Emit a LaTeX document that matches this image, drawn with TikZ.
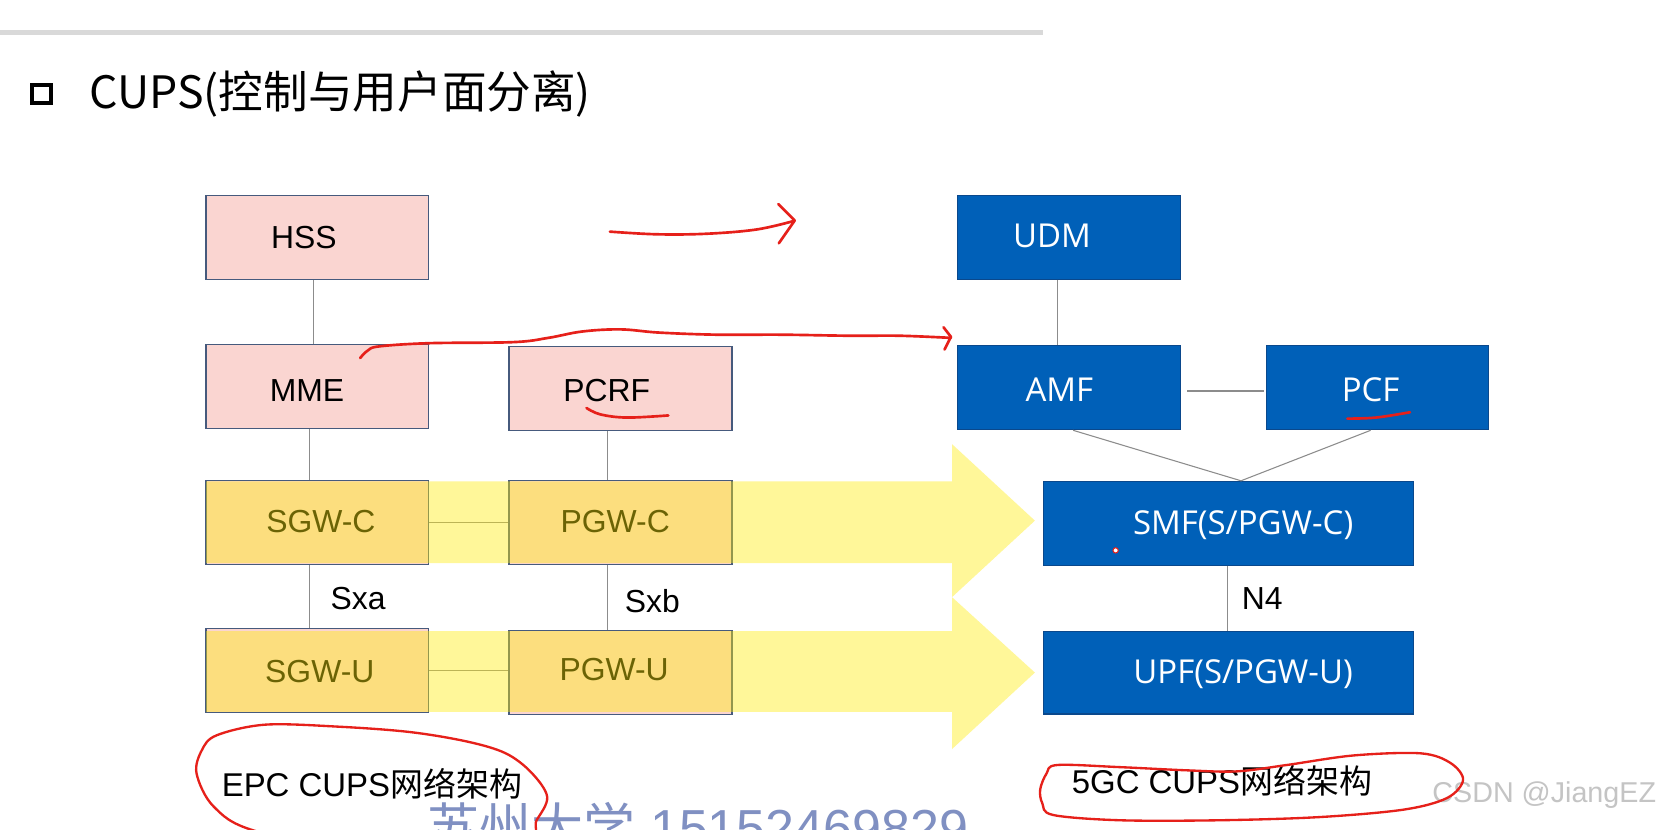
\documentclass[tikz,border=0pt]{standalone}
\usepackage{fontspec}
\setmainfont{Liberation Sans}
\newfontfamily\cjk{Noto Sans CJK SC}
\newfontfamily\osans{Open Sans}
\definecolor{pinkfill}{RGB}{250,213,209}
\definecolor{boxedge}{RGB}{70,90,125}
\definecolor{bluefill}{RGB}{0,96,184}
\definecolor{blueedge}{RGB}{10,72,140}
\definecolor{bandcol}{RGB}{255,236,12}
\definecolor{conncol}{RGB}{140,140,140}
\definecolor{pencol}{RGB}{230,32,26}
\definecolor{wmcol}{RGB}{128,144,194}
\definecolor{csdncol}{RGB}{196,196,196}
\definecolor{barcol}{RGB}{217,217,217}
\tikzset{
  pinkbox/.style={draw=boxedge, line width=1.2pt, fill=pinkfill, minimum width=209pt, minimum height=79pt, inner sep=0pt},
  bluebox/.style={draw=blueedge, line width=1pt, fill=bluefill, minimum width=210pt, minimum height=79pt, inner sep=0pt},
  lbl/.style={inner sep=0pt, text height=21.5pt, text depth=0pt, font=\fontsize{30}{36}\selectfont},
  blbl/.style={inner sep=0pt, text height=22pt, text depth=0pt, text=white, font=\osans\fontsize{31}{36}\selectfont},
  conn/.style={draw=conncol, line width=1pt},
  pen/.style={draw=pencol, line width=2.5pt, line cap=round, line join=round},
}
\begin{document}
\begin{tikzpicture}[x=1pt,y=-1pt]
\useasboundingbox (0,0) rectangle (1568,781);
\fill[white] (0,0) rectangle (1568,781);
% top bar
\fill[barcol] (0,28.5) rectangle (982,33);
% title
\draw[line width=4pt] (30,80) rectangle (48,97);
\node[anchor=west, inner sep=0pt] (title) at (84,88) {\cjk\fontsize{42}{48}\selectfont CUPS(控制与用户面分离)};

% EPC boxes
\node[pinkbox] (hss)  at (298.5,223.5) {};
\node[pinkbox] (mme)  at (298.5,364) {};
\node[pinkbox, minimum width=210pt] (pcrf) at (584,365.5) {};
\node[pinkbox] (sgwc) at (298.5,492) {};
\node[pinkbox, minimum width=210pt] (pgwc) at (584,492) {};
\node[pinkbox] (sgwu) at (298.5,631) {};
\node[pinkbox, minimum width=210pt] (pgwu) at (584,633) {};

\node[lbl] (hssl)  at (286,223) {HSS};
\node[lbl] (mmel)  at (289,367) {MME};
\node[lbl] (pcrfl) at (571,367) {PCRF};
\node[lbl] (sgwcl) at (302,490) {SGW-C};
\node[lbl] (pgwcl) at (579,490) {PGW-C};
\node[lbl] (sgwul) at (301,632) {SGW-U};
\node[lbl] (pgwul) at (578,630) {PGW-U};

\draw[conn] ([xshift=-3.5pt]hss.south) -- ([xshift=-3.5pt]mme.north);
\draw[conn] ([xshift=-7.5pt]mme.south) -- ([xshift=-7.5pt]sgwc.north);
\draw[conn] ([xshift=-12pt]pcrf.south) -- ([xshift=-12pt]pgwc.north);
\draw[conn] (sgwc.east) -- (pgwc.west);
\draw[conn] ([xshift=-7.5pt]sgwc.south) -- ([xshift=-7.5pt]sgwu.north);
\draw[conn] ([xshift=-12pt]pgwc.south) -- ([xshift=-12pt]pgwu.north);
\draw[conn] (sgwu.east) -- (pgwu.west |- sgwu.east);
\node[lbl] (sxa) at (337,563) {Sxa};
\node[lbl] (sxb) at (614,566) {Sxb};

% yellow transparent arrows
\fill[bandcol, fill opacity=0.42]
  (194,453) -- (896,453) -- (896,418) -- (974,490) -- (896,562) -- (896,530) -- (194,530) -- cycle
  (194,594) -- (896,594) -- (896,562) -- (974,633) -- (896,705) -- (896,670) -- (194,670) -- cycle;

% 5GC boxes
\node[bluebox] (udm) at (1006,223.5) {};
\node[bluebox] (amf) at (1006,365) {};
\node[bluebox, minimum width=209pt] (pcf) at (1296.5,365) {};
\node[bluebox, minimum width=348pt] (smf) at (1156,492.5) {};
\node[bluebox, minimum width=348pt, minimum height=78pt] (upf) at (1156,633) {};

\node[blbl] (udml) at (990,222) {UDM};
\node[blbl] (amfl) at (997,367) {AMF};
\node[blbl] (pcfl) at (1290,367) {PCF};
\node[blbl] (smfl) at (1170,492) {SMF(S/PGW-C)};
\node[blbl] (upfl) at (1170,632) {UPF(S/PGW-U)};

\draw[conn] ([xshift=-11pt]udm.south) -- ([xshift=-11pt]amf.north);
\draw[conn] ([xshift=6pt,yshift=-3pt]amf.east) -- ([xshift=-2pt,yshift=-3pt]pcf.west);
\coordinate (smftop) at ([xshift=12pt]smf.north);
\draw[conn] ([xshift=4pt]amf.south) -- (smftop);
\draw[conn] ([xshift=-6.5pt]pcf.south) -- (smftop);
\draw[conn] ([xshift=-1pt]smf.south) -- ([xshift=-1pt]upf.north);
\node[lbl] (n4) at (1188,563) {N4};

% bottom captions
\node[inner sep=0pt, font=\fontsize{31}{36}\selectfont] (epc) at (350,738) {EPC CUPS{\cjk 网络架构}};
\node[inner sep=0pt, font=\fontsize{31}{36}\selectfont] (fgc) at (1150,735) {5GC CUPS{\cjk 网络架构}};

% watermark
\node[anchor=base west, inner sep=0pt, text=wmcol, font=\fontsize{49}{56}\selectfont] (wm) at (402,797) {{\cjk 苏州大学} 15152469829};
\node[anchor=west, inner sep=0pt, text=csdncol, font=\fontsize{27}{32}\selectfont] (csdn) at (1348,748) {CSDN @JiangEZ};

% red hand annotations
\draw[pen] plot[smooth, tension=0.6] coordinates {(574,218) (618,220.5) (665,220) (712,216) (747,208)};
\draw[pen] (732.5,192) -- (748,207.5) -- (733,229);
\draw[pen] plot[smooth, tension=0.6] coordinates {(339,337) (346,330) (357,326) (404,323) (483,322) (516,318) (548,312) (584,310) (620,313) (674,315) (735,315) (800,316) (847,316) (895,318)};
\draw[pen] (888,308) -- (895,317) -- (889,329);
\draw[pen] plot[smooth, tension=0.6] coordinates {(552,384) (565,390) (590,393) (629,391)};
\draw[pen] plot[smooth, tension=0.6] coordinates {(1268,394) (1295,393) (1327,388)};
\draw[draw=pencol, line width=1pt, fill=white] (1050,518) circle (2.5);
\draw[pen, line width=2.2pt] plot[smooth cycle, tension=0.55] coordinates {(250,682) (320,684) (386,689) (440,698) (476,709) (500,727) (515,750) (505,772) (490,792) (360,806) (240,782) (201,759) (185,728) (190,706) (204,692)};
\draw[pen, line width=2.2pt] plot[smooth cycle, tension=0.55] coordinates {(995,720) (1054,722) (1117,725) (1164,726) (1211,720) (1274,711) (1337,709) (1365,718) (1377,734) (1362,751) (1321,762) (1242,769) (1148,772) (1054,772) (991,767) (981,756) (979,743) (985,728)};
\end{tikzpicture}
\end{document}
